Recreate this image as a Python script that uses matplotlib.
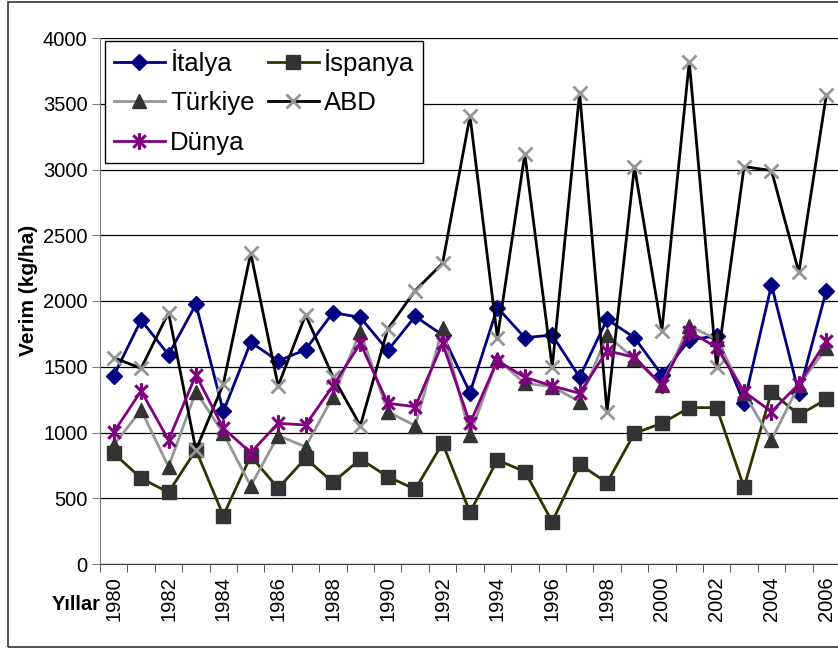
import matplotlib
matplotlib.use("Agg")
import matplotlib.pyplot as plt
from matplotlib.path import Path
from matplotlib.patches import Rectangle

plt.rcParams["font.family"] = ["Liberation Sans", "DejaVu Sans"]

years = list(range(1980, 2007))
italya = [1432, 1855, 1592, 1975, 1160, 1686, 1544, 1630, 1912, 1875, 1624, 1883, 1741, 1303, 1950,
          1721, 1741, 1420, 1861, 1721, 1437, 1705, 1734, 1222, 2122, 1298, 2078]
ispanya = [842, 652, 545, 867, 368, 821, 576, 804, 621, 798, 664, 568, 918, 393, 791,
           702, 322, 758, 618, 994, 1070, 1189, 1189, 583, 1310, 1133, 1252]
turkiye = [905, 1171, 740, 1310, 994, 593, 976, 892, 1272, 1767, 1158, 1052, 1792, 981, 1557,
           1374, 1349, 1234, 1741, 1559, 1361, 1810, 1709, 1298, 943, 1361, 1640]
abd = [1569, 1488, 1911, 867, 1369, 2363, 1354, 1894, 1424, 1052, 1787, 2079, 2287, 3407, 1721,
       3118, 1496, 3584, 1158, 3022, 1774, 3820, 1496, 3022, 2992, 2218, 3566]
dunya = [1002, 1316, 943, 1437, 1032, 847, 1070, 1057, 1354, 1678, 1222, 1196, 1678, 1070, 1546,
         1420, 1354, 1298, 1622, 1572, 1361, 1767, 1648, 1310, 1158, 1369, 1696]

# Excel-style star: vertical bar plus an x
star = Path([(0, -1), (0, 1), (-0.75, -0.75), (0.75, 0.75), (-0.75, 0.75), (0.75, -0.75)],
            [Path.MOVETO, Path.LINETO, Path.MOVETO, Path.LINETO, Path.MOVETO, Path.LINETO])

W, H = 838, 649
fig = plt.figure(figsize=(W / 100, H / 100), dpi=100)
ax = fig.add_axes([100 / W, (H - 564) / H, 740 / W, 526 / H])

h_it, = ax.plot(years, italya, color="#000080", lw=2, marker="D", ms=8,
                mfc="#000080", mec="#000080", label="İtalya", zorder=3)
h_es, = ax.plot(years, ispanya, color="#333300", lw=2, marker="s", ms=10,
                mfc="#333333", mec="#333333", label="İspanya", zorder=4)
h_tr, = ax.plot(years, turkiye, color="#969696", lw=2, marker="^", ms=10,
                mfc="#333333", mec="#333333", label="Türkiye", zorder=5)
h_us, = ax.plot(years, abd, color="black", lw=2, marker="x", ms=10, mew=2,
                mec="#969696", label="ABD", zorder=6)
h_dn, = ax.plot(years, dunya, color="#800080", lw=2, marker=star, ms=12, mew=2.2,
                mec="#800080", mfc="none", label="Dünya", zorder=7)

ax.set_xlim(1979.5, 2006.5)
ax.set_ylim(0, 4000)
ax.set_yticks(range(0, 4001, 500))
ax.yaxis.grid(True, color="black", lw=0.9)
ax.set_axisbelow(True)
ax.tick_params(axis="y", labelsize=14.5, length=6, color="#808080", pad=3)

ax.set_xticks(years[::2])
ax.set_xticklabels([str(y) for y in years[::2]], rotation=90, va="top")
ax.set_xticks([y + 0.5 for y in years[:-1]] + [1979.5], minor=True)
ax.tick_params(axis="x", which="major", length=0, labelsize=14.5, pad=9)
ax.tick_params(axis="x", which="minor", length=6, color="#404040", direction="out")

for s in ["top", "right"]:
    ax.spines[s].set_visible(False)
ax.spines["left"].set_color("#808080")
ax.spines["bottom"].set_color("#404040")

ax.set_ylabel("Verim (kg/ha)", fontsize=15, fontweight="bold")
ax.yaxis.set_label_coords(-0.084, 0.52)
fig.text(52 / W, 1 - 605 / H, "Yıllar", fontsize=14.5, fontweight="bold", va="center", ha="left")

leg = ax.legend(handles=[h_it, h_tr, h_dn, h_es, h_us], ncol=2, loc="upper left",
                bbox_to_anchor=(0.007, 0.995), borderaxespad=0, fontsize=18.5,
                frameon=True, fancybox=False, edgecolor="black", framealpha=1,
                handlelength=2.0, handletextpad=0.2, columnspacing=0.5,
                labelspacing=0.6, borderpad=0.33)
leg.get_frame().set_linewidth(1)
leg.set_zorder(10)

fig.patches.append(Rectangle((8 / W, 2 / H), 1, 645 / H, transform=fig.transFigure,
                             fill=False, ec="#333333", lw=1.2))

fig.savefig("out.png", dpi=100)
